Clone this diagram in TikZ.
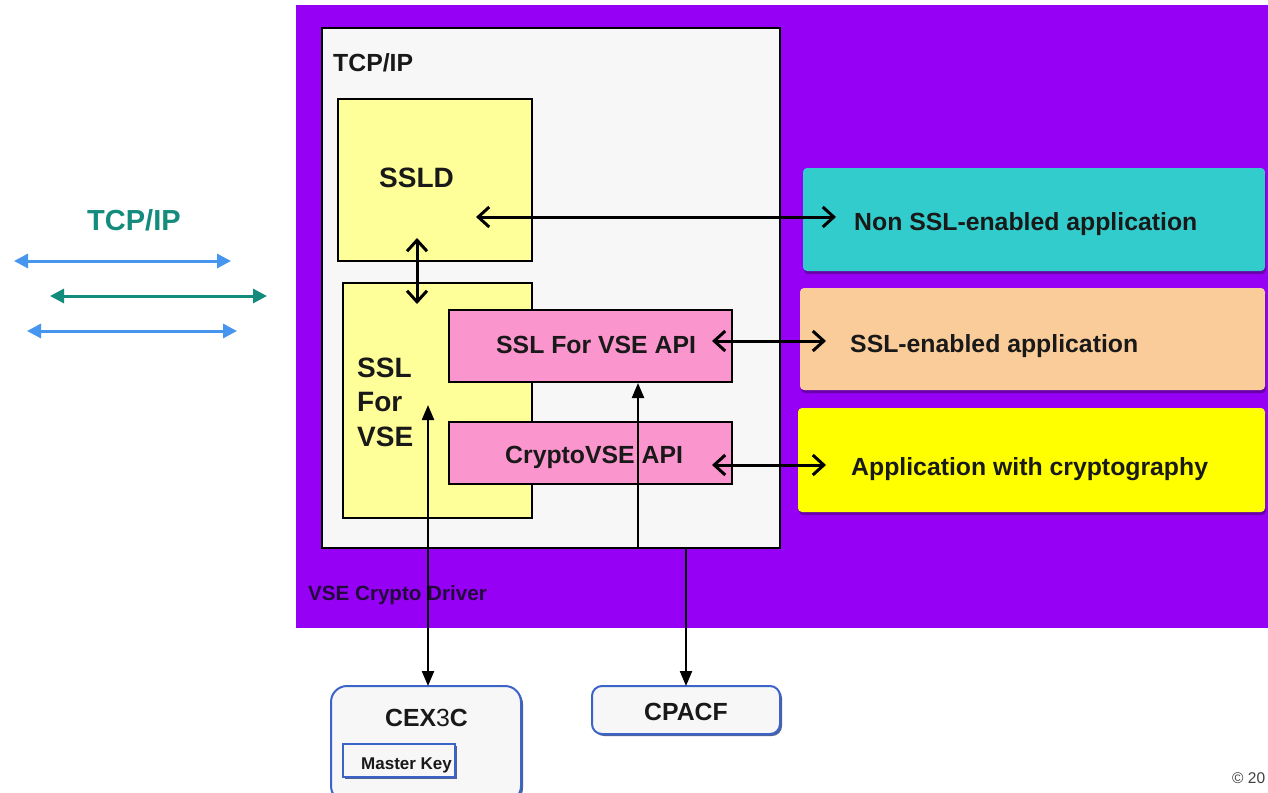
\documentclass[tikz,border=0pt]{standalone}
\usepackage{fontspec}
\setmainfont{Liberation Sans}
\usetikzlibrary{arrows.meta,calc,shadows}
\definecolor{vpurple}{RGB}{150,0,245}
\definecolor{panel}{RGB}{247,247,247}
\definecolor{lyellow}{RGB}{255,255,153}
\definecolor{lpink}{RGB}{250,150,205}
\definecolor{tealbox}{RGB}{51,204,204}
\definecolor{peach}{RGB}{250,204,153}
\definecolor{ybox}{RGB}{255,255,0}
\definecolor{ltblue}{RGB}{70,150,240}
\definecolor{dteal}{RGB}{20,140,125}
\definecolor{hwblue}{RGB}{60,100,200}
\definecolor{drv}{RGB}{35,10,60}
\tikzset{
  box/.style={draw=black, line width=2.8pt, inner sep=0pt, outer sep=0pt},
  appbox/.style={fill=#1, rounded corners=4pt, inner sep=0pt, outer sep=0pt,
    drop shadow={shadow xshift=1pt, shadow yshift=-3pt, fill=black, opacity=.3}},
  hwbox/.style={draw=hwblue, line width=2pt, fill=white!97!black, inner sep=0pt, outer sep=0pt,
    drop shadow={shadow xshift=2pt, shadow yshift=-2pt, fill=hwblue!60!black, opacity=.8}},
  txt/.style={font=\bfseries\fontsize{24.8}{30}\selectfont, inner sep=0pt, anchor=base west, text=black!90},
  bigtxt/.style={font=\bfseries\fontsize{28}{34}\selectfont, inner sep=0pt, anchor=base west, text=black!90},
  barb/.style={line width=3pt, {Straight Barb[length=11pt,width=20pt]}-{Straight Barb[length=11pt,width=20pt]}},
  netarrow/.style={line width=3pt, {Triangle[length=14pt,width=14pt]}-{Triangle[length=14pt,width=14pt]}},
  hwline/.style={line width=2.2pt, {Triangle[length=15pt,width=12pt]}-{Triangle[length=15pt,width=12pt]}},
}
\begin{document}
\begin{tikzpicture}[x=1pt,y=-1pt]
\useasboundingbox (0,0) rectangle (1268,792);
\clip (0,0) rectangle (1268,792);
\fill[white] (0,0) rectangle (1268,792);
% purple background
\fill[vpurple] (296,5) rectangle (1268,628);

% TCP/IP panel
\node[box, fill=panel, minimum width=458pt, minimum height=520pt] (tcp) at (551,288) {};
\node[txt] (tcpT) at (333,71) {TCP/IP};

% SSLD
\node[box, fill=lyellow, minimum width=194pt, minimum height=162pt] (ssld) at (435,180) {};
\node[bigtxt] (ssldT) at (379,187) {SSLD};

% SSL For VSE
\node[box, fill=lyellow, minimum width=189pt, minimum height=235pt] (sslvse) at (437.5,400.5) {};
\node[bigtxt] (sslT1) at (357,377) {SSL};
\node[bigtxt] (sslT2) at (357,411) {For};
\node[bigtxt] (sslT3) at (357,446) {VSE};

% APIs
\node[box, fill=lpink, minimum width=283pt, minimum height=72pt] (sslapi) at (590.5,346) {};
\node[txt] (sslapiT) at (496,353) {SSL For VSE API};
\node[box, fill=lpink, minimum width=283pt, minimum height=62pt] (cryptoapi) at (590.5,453) {};
\node[txt] (cryptoapiT) at (505,463) {CryptoVSE API};

% applications
\node[appbox=tealbox, minimum width=462pt, minimum height=103pt] (nonssl) at (1034,219.5) {};
\node[txt] (nonsslT) at (854,230) {Non SSL-enabled application};
\node[appbox=peach, minimum width=465pt, minimum height=102pt] (sslapp) at (1032.5,339) {};
\node[txt] (sslappT) at (850,352) {SSL-enabled application};
\node[appbox=ybox, minimum width=467pt, minimum height=104pt] (cryptoapp) at (1031.5,460) {};
\node[txt] (cryptoappT) at (851,475) {Application with cryptography};

% driver label
\node[inner sep=0pt, anchor=base west, text=drv, font=\bfseries\fontsize{20.6}{24}\selectfont] (drvT) at (308,600) {VSE Crypto Driver};

% hardware
\node[hwbox, rounded corners=16pt, minimum width=190pt, minimum height=116pt] (cex) at (426,744) {};
\node[txt] (cexT) at (385,726) {CEX\textmd{3}C};
\node[hwbox, minimum width=112pt, minimum height=33pt] (mkey) at (399,760.5) {};
\node[inner sep=0pt, anchor=base west, font=\bfseries\fontsize{17}{20}\selectfont, text=black!90] (mkeyT) at (361,769) {Master Key};
\node[hwbox, rounded corners=10pt, minimum width=188pt, minimum height=48pt] (cpacf) at (686,710) {};
\node[txt] (cpacfT) at (644,720) {CPACF};

% copyright
\node[inner sep=0pt, anchor=base west, font=\fontsize{15.5}{18}\selectfont, text=black!75] (copyT) at (1232,783) {© 20};

% left TCP/IP
\node[inner sep=0pt, anchor=base west, text=dteal, font=\bfseries\fontsize{29}{34}\selectfont] (netT) at (87,230) {TCP/IP};
\coordinate (n1a) at (14,261);  \coordinate (n1b) at (231,261);
\coordinate (n2a) at (50,296);  \coordinate (n2b) at (267,296);
\coordinate (n3a) at (27,331);  \coordinate (n3b) at (237,331);
\draw[netarrow, draw=ltblue, fill=ltblue] (n1a) -- (n1b);
\draw[netarrow, draw=dteal, fill=dteal] (n2a) -- (n2b);
\draw[netarrow, draw=ltblue, fill=ltblue] (n3a) -- (n3b);

% black connectors
\coordinate (a1s) at (476,217); \coordinate (a1e) at (836,217);
\draw[barb] (a1s) -- (a1e);
\coordinate (a2s) at (417,238); \coordinate (a2e) at (417,304);
\draw[barb] (a2s) -- (a2e);
\coordinate (a3s) at (712,341); \coordinate (a3e) at (826,341);
\draw[barb] (a3s) -- (a3e);
\coordinate (a4s) at (712,465); \coordinate (a4e) at (826,465);
\draw[barb] (a4s) -- (a4e);

\coordinate (a5s) at (428,405);
\draw[hwline] (a5s) -- (a5s |- cex.north);
\coordinate (a6s) at (638,383);
\coordinate (a6m) at (638,548);
\draw[hwline] (a6s) -- (a6m) -| (cpacf.north);
\end{tikzpicture}
\end{document}
